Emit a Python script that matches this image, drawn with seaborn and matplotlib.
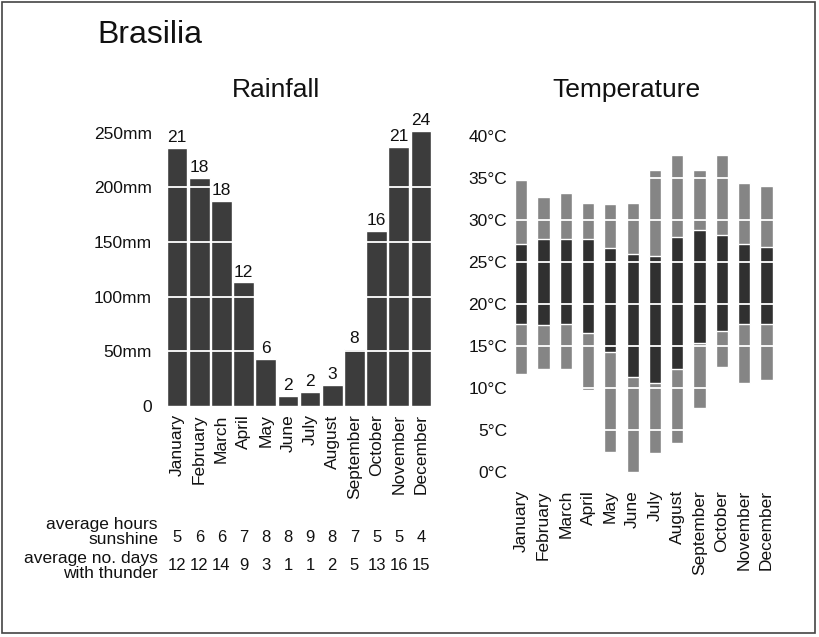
import matplotlib
matplotlib.use("Agg")
from matplotlib import pyplot as plt
from matplotlib.patches import Rectangle
from matplotlib.transforms import blended_transform_factory
import seaborn as sns
import pandas as pd

# Brasilia climate data
months = ["January", "February", "March", "April", "May", "June",
          "July", "August", "September", "October", "November", "December"]
rain_mm = [236, 209, 188, 113, 43, 9, 13, 19, 52, 160, 237, 252]
rain_days = [21, 18, 18, 12, 6, 2, 2, 3, 8, 16, 21, 24]
sunshine_hours = [5, 6, 6, 7, 8, 8, 9, 8, 7, 5, 5, 4]
thunder_days = [12, 12, 14, 9, 3, 1, 1, 2, 5, 13, 16, 15]

temp_record_low = [11.7, 12.3, 12.3, 9.8, 2.4, 0.0, 2.3, 3.4, 7.6, 12.5, 10.6, 11.0]
temp_record_high = [34.8, 32.7, 33.2, 32.0, 31.9, 32.0, 36.0, 37.7, 36.0, 37.7, 34.4, 34.0]
temp_avg_low = [17.6, 17.5, 17.6, 16.5, 14.3, 11.3, 10.6, 12.3, 15.4, 16.8, 17.6, 17.6]
temp_avg_high = [27.2, 27.7, 27.7, 27.7, 26.7, 26.0, 25.7, 28.0, 28.8, 28.2, 27.2, 26.8]

rain_ticks = [0, 50, 100, 150, 200, 250]
rain_tick_labels = ["0", "50mm", "100mm", "150mm", "200mm", "250mm"]
temp_ticks = [0, 5, 10, 15, 20, 25, 30, 35, 40]
temp_tick_labels = ["0°C", "5°C", "10°C", "15°C", "20°C", "25°C", "30°C", "35°C", "40°C"]

sns.set_style("white")
plt.rcParams["font.family"] = ["Liberation Sans", "DejaVu Sans"]
plt.rcParams["text.color"] = "#111111"
plt.rcParams["xtick.color"] = "#111111"
plt.rcParams["ytick.color"] = "#111111"

W, H = 819, 637
fig = plt.figure(figsize=(W / 100, H / 100), dpi=100)


def fx(px):
    return px / W


def fy(py):
    return 1 - py / H


# --- Rainfall ---
ax1 = fig.add_axes([fx(166), fy(406), fx(266), (262 * 1.093) / H])
df_rain = pd.DataFrame({"month": months, "rain": rain_mm})
sns.barplot(data=df_rain, x="month", y="rain", color="#3c3c3c",
            saturation=1, width=0.93, ax=ax1)
ax1.set_ylim(0, 262)
ax1.set_xlim(-0.5, 11.5)
# white rules show only where they cross the bars
for y in rain_ticks[1:-1]:
    ax1.axhline(y, color="white", lw=1.3, zorder=5)
labels = ax1.bar_label(ax1.containers[0], labels=[str(d) for d in rain_days],
                       padding=2, fontsize=12.5)
for t in labels:
    t.set_zorder(6)
ax1.set_yticks(rain_ticks)
ax1.set_yticklabels(rain_tick_labels, fontsize=12.5)
ax1.set_xticks(range(len(months)))
ax1.set_xticklabels(months, rotation=90, fontsize=12.5)
ax1.tick_params(axis="y", length=0, pad=10)
ax1.tick_params(axis="x", length=0, pad=6)
ax1.set_xlabel("")
ax1.set_ylabel("")
sns.despine(ax=ax1, left=True, bottom=True)

# --- Temperature ---
ax2 = fig.add_axes([fx(510), fy(480.4), fx(267.6), (42 * 8.4) / H])
rec_h = [h - l for h, l in zip(temp_record_high, temp_record_low)]
avg_h = [h - l for h, l in zip(temp_avg_high, temp_avg_low)]
ax2.bar(months, rec_h, bottom=temp_record_low, width=0.55, color="#858585", zorder=2)
ax2.bar(months, avg_h, bottom=temp_avg_low, width=0.55, color="#303030", zorder=3)
ax2.set_ylim(-1, 41)
ax2.set_xlim(-0.5, 11.5)
for y in temp_ticks[1:-1]:
    ax2.axhline(y, color="white", lw=1.3, zorder=5)
ax2.set_yticks(temp_ticks)
ax2.set_yticklabels(temp_tick_labels, fontsize=12.5)
ax2.set_xticks(range(len(months)))
ax2.set_xticklabels(months, rotation=90, fontsize=12.5)
ax2.tick_params(axis="y", length=0, pad=2)
ax2.tick_params(axis="x", length=0, pad=7)
sns.despine(ax=ax2, left=True, bottom=True)

# --- titles ---
fig.text(fx(97), fy(43), "Brasilia", fontsize=23, va="baseline", ha="left")
fig.text(fx(276), fy(97), "Rainfall", fontsize=19, va="baseline", ha="center")
fig.text(fx(626), fy(97), "Temperature", fontsize=19, va="baseline", ha="center")

# --- sunshine / thunder table ---
fig.text(fx(158), fy(532), "average hours\nsunshine", ha="right", va="center",
         fontsize=12.5, linespacing=1.0)
fig.text(fx(158), fy(566), "average no. days\nwith thunder", ha="right",
         va="center", fontsize=12.5, linespacing=1.05)
tr = blended_transform_factory(ax1.transData, fig.transFigure)
for i, (s, t) in enumerate(zip(sunshine_hours, thunder_days)):
    ax1.text(i, fy(537), str(s), transform=tr, ha="center", va="center",
             fontsize=12, clip_on=False)
    ax1.text(i, fy(565), str(t), transform=tr, ha="center", va="center",
             fontsize=12, clip_on=False)

# frame around the whole figure
fig.patches.append(Rectangle((fx(2), fy(633)), fx(813), (631) / H,
                             transform=fig.transFigure, fill=False,
                             edgecolor="#444444", lw=1.2))

fig.savefig("out.png", dpi=100)
